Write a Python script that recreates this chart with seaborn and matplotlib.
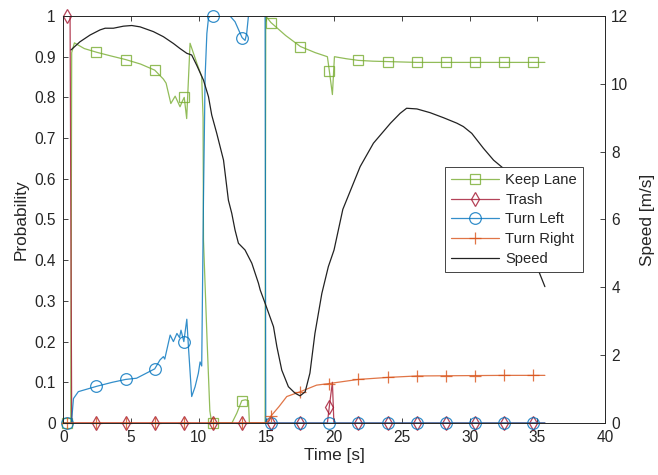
import numpy as np
import seaborn as sns
import matplotlib.pyplot as plt
from matplotlib.lines import Line2D
from matplotlib.ticker import FormatStrFormatter

sns.set_style("ticks")
plt.rcParams['font.family'] = ['Liberation Sans', 'DejaVu Sans']

# ---- data ----
keep_t = [0, 0.55, 0.62, 0.82, 1.55, 2.45, 3.5, 4.6, 5.7, 6.75, 7.39, 7.59, 7.94, 8.26, 8.62, 8.78,
          8.93, 9.11, 9.36, 9.86, 10.22, 10.32, 10.35, 10.62, 10.82, 10.96, 12.45, 12.81, 13.18,
          13.44, 13.67, 13.74, 14.9, 14.95, 15.33, 16.42, 17.51, 18.6, 19.5, 19.64, 19.87, 20.02,
          20.9, 21.77, 22.86, 23.96, 26.09, 35.56]
keep_p = [0, 0, 0.91, 0.934, 0.92, 0.911, 0.902, 0.893, 0.882, 0.867, 0.845, 0.835, 0.785, 0.803,
          0.777, 0.79, 0.80, 0.748, 0.933, 0.884, 0.851, 0.75, 0.45, 0.2, 0.03, 0, 0, 0.024, 0.055,
          0.057, 0.055, 0, 0, 1.0, 0.984, 0.952, 0.925, 0.91, 0.90, 0.866, 0.807, 0.9, 0.895, 0.891,
          0.889, 0.888, 0.886, 0.886]

trash_t = [0, 0.5, 0.62, 19.5, 19.64, 19.87, 19.98, 35.56]
trash_p = [1, 1, 0, 0, 0.04, 0.10, 0, 0]

left_t = [0, 0.6, 0.75, 1.11, 2.45, 3.62, 4.6, 5.41, 6.75, 7.14, 7.39, 7.49, 7.89, 8.13, 8.39, 8.58,
          8.69, 8.9, 9.12, 9.24, 9.48, 9.73, 9.97, 10.1, 10.22, 10.27, 10.35, 10.47, 10.6, 10.72,
          10.86, 12.31, 12.68, 13.05, 13.2, 13.42, 13.54, 13.67, 14.9, 14.95, 35.56]
left_p = [0, 0, 0.06, 0.077, 0.09, 0.1, 0.107, 0.11, 0.133, 0.155, 0.163, 0.157, 0.216, 0.20, 0.22,
          0.21, 0.228, 0.20, 0.255, 0.187, 0.065, 0.089, 0.122, 0.15, 0.14, 0.3, 0.55, 0.85, 0.957,
          0.995, 1.0, 1.0, 0.986, 0.958, 0.947, 0.94, 0.957, 1.0, 1.0, 0, 0]

right_t = [0, 15.0, 15.33, 15.92, 16.5, 17.51, 18.7, 19.64, 20.7, 21.77, 23.96, 26.09, 28.25,
           30.4, 32.55, 35.56]
right_p = [0, 0, 0.017, 0.04, 0.065, 0.077, 0.093, 0.097, 0.102, 0.107, 0.112, 0.1155, 0.116,
           0.1165, 0.117, 0.117]

speed_t = [0.57, 1.23, 1.98, 2.71, 3.09, 3.7, 4.44, 5.05, 5.67, 6.65, 7.39, 8.13, 8.62, 9.12, 9.48,
           9.85, 10.35, 10.72, 10.96, 11.33, 11.83, 12.19, 12.44, 12.68, 12.93, 13.42, 13.92, 14.41,
           14.54, 14.9, 15.52, 15.77, 16.13, 16.62, 17.11, 17.48, 17.86, 18.21, 18.58, 19.09, 19.57,
           19.99, 20.64, 21.92, 22.9, 24.16, 24.87, 25.35, 26.11, 27.08, 28.08, 29.06, 29.54, 30.16,
           31.02, 31.77, 32.49, 33.4, 34.2, 35.07, 35.56]
speed_v = [11.0, 11.24, 11.44, 11.59, 11.64, 11.64, 11.7, 11.72, 11.68, 11.54, 11.39, 11.19, 11.04,
           10.9, 10.85, 10.55, 10.11, 9.62, 9.08, 8.54, 7.75, 6.57, 6.18, 5.69, 5.30, 5.10, 4.71,
           4.12, 3.92, 3.53, 2.84, 2.25, 1.56, 1.07, 0.88, 0.80, 0.92, 1.47, 2.64, 3.82, 4.61, 5.10,
           6.3, 7.56, 8.25, 8.84, 9.13, 9.28, 9.26, 9.15, 9.0, 8.84, 8.74, 8.54, 8.10, 7.75, 7.51,
           6.5, 5.3, 4.51, 4.02]

# marker samples
mark_t = [0.27, 2.45, 4.6, 6.75, 8.9, 11.05, 13.2, 15.33, 17.51, 19.64, 21.77, 23.96, 26.09,
          28.25, 30.4, 32.55, 34.7]
keep_m = [0, 0.911, 0.893, 0.867, 0.80, 0, 0.055, 0.984, 0.925, 0.866, 0.891, 0.888, 0.886,
          0.886, 0.886, 0.886, 0.886]
trash_m = [1, 0, 0, 0, 0, 0, 0, 0, 0, 0.04, 0, 0, 0, 0, 0, 0, 0]
left_m = [0, 0.09, 0.107, 0.133, 0.20, 1.0, 0.947, 0, 0, 0, 0, 0, 0, 0, 0, 0, 0]
right_m = [0, 0, 0, 0, 0, 0, 0, 0.017, 0.077, 0.097, 0.107, 0.112, 0.1155, 0.116, 0.1165,
           0.117, 0.117]

series = [
    ("Keep Lane", keep_t, keep_p, keep_m, "#77AC30", "s", 6.5),
    ("Trash", trash_t, trash_p, trash_m, "#A2142F", "d", 7.0),
    ("Turn Left", left_t, left_p, left_m, "#0072BD", "o", 8.4),
    ("Turn Right", right_t, right_p, right_m, "#D95319", "+", 8.5),
]

INK = "#262626"
fig = plt.figure(figsize=(6.58, 4.75), dpi=100)
ax = fig.add_axes([0.0962, 0.1095, 0.8233, 0.8568])
ax2 = ax.twinx()

handles = []
for name, t, p, m, col, mk, ms in series:
    sns.lineplot(x=t, y=p, ax=ax, color=col, linewidth=0.9, alpha=0.8,
                 sort=False, estimator=None)
    ax.plot(mark_t, m, linestyle="none", marker=mk, markersize=ms, markerfacecolor="none",
            markeredgecolor=col, markeredgewidth=0.9, alpha=0.8, clip_on=False)
    handles.append(Line2D([], [], color=col, linewidth=0.9, marker=mk, markersize=ms,
                          markerfacecolor="none", markeredgecolor=col, markeredgewidth=0.9,
                          alpha=0.8, label=name))

sns.lineplot(x=speed_t, y=speed_v, ax=ax2, color="#222222", linewidth=0.9,
             sort=False, estimator=None)
handles.append(Line2D([], [], color="#222222", linewidth=0.9, label="Speed"))

ax.set_xlim(0, 40)
ax.set_ylim(0, 1)
ax2.set_ylim(0, 12)
ax.set_xticks(np.arange(0, 41, 5))
ax.set_yticks(np.arange(0, 1.01, 0.1))
ax.yaxis.set_major_formatter(FormatStrFormatter("%g"))
ax2.set_yticks(np.arange(0, 13, 2))

ax.set_xlabel("Time [s]", fontsize=12.4, color=INK, labelpad=2)
ax.set_ylabel("Probability", fontsize=12.4, color=INK, labelpad=4)
ax2.set_ylabel("Speed [m/s]", fontsize=12.4, color=INK, labelpad=8)

ax.tick_params(axis="x", direction="in", top=True, length=3.6, width=0.6,
               labelsize=11.2, colors=INK, pad=5)
ax.tick_params(axis="y", direction="in", right=False, length=3.6, width=0.6,
               labelsize=11.2, colors=INK, pad=5.5)
ax2.tick_params(axis="y", direction="in", length=3.6, width=0.6,
                labelsize=11.2, colors=INK, pad=4.5)
for a in (ax, ax2):
    for s in a.spines.values():
        s.set_color(INK)
        s.set_linewidth(0.6)

leg = ax2.legend(handles=handles, loc="center right", bbox_to_anchor=(0.959, 0.5),
                 borderaxespad=0, fontsize=10.6, frameon=True, fancybox=False,
                 framealpha=1, edgecolor=INK, handlelength=3.3, labelspacing=0.38,
                 borderpad=0.4, handletextpad=0.4, numpoints=1)
leg.get_frame().set_linewidth(0.6)
for txt in leg.get_texts():
    txt.set_color(INK)

fig.savefig("out.png", dpi=100)
